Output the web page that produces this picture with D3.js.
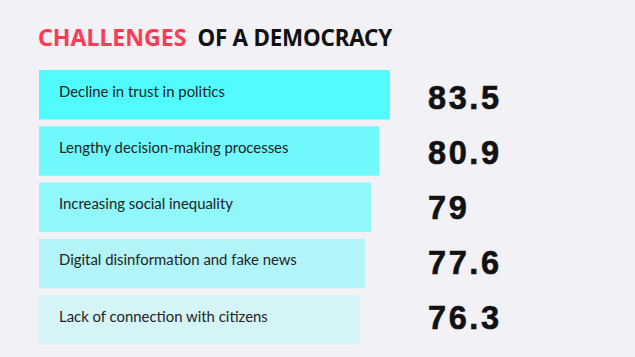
<!DOCTYPE html>
<html><head><meta charset="utf-8">
<script src="https://cdn.jsdelivr.net/npm/d3@7"></script>
<style>
html,body{margin:0;padding:0;background:#f2f1f6;}
svg{display:block;}
</style></head>
<body>
<script>
const categories = ["Decline in trust in politics","Lengthy decision-making processes","Increasing social inequality","Digital disinformation and fake news","Lack of connection with citizens"];
const values = [83.5, 80.9, 79, 77.6, 76.3];
const valueLabels = ["83.5","80.9","79","77.6","76.3"];
const barColors = ["#50fcfe","#70f9fc","#90f7fa","#b2f4f7","#d5f4f7"];
const titleRed = "CHALLENGES";
const titleBlack = "OF A DEMOCRACY";

const W = 635, H = 357;
const svg = d3.select("body").append("svg").attr("width", W).attr("height", H);
svg.append("rect").attr("width", W).attr("height", H).attr("fill", "#f2f1f6");

const title = svg.append("text").attr("x", 38).attr("y", 46)
  .attr("font-family", "'Noto Sans', sans-serif").attr("font-weight", 700).attr("font-size", 22.4);
title.append("tspan").attr("fill", "#fd3b55").attr("font-size", 23.1).text(titleRed);
title.append("tspan").attr("fill", "#111").attr("dx", 11).attr("letter-spacing", -0.2).text(titleBlack);

const x = d3.scaleLinear().domain([0, 83.5]).range([0, 351]);
const y = d3.scaleBand().domain(categories).range([70, 344.5]).paddingInner(0.12).paddingOuter(0);
const yNum = d3.scalePoint().domain(categories).range([108.5, 328.5]);
const x0 = 39;

const rows = categories.map((c, i) => ({c, v: values[i], lab: valueLabels[i], col: barColors[i]}));

svg.selectAll("rect.bar").data(rows).enter().append("rect")
  .attr("class", "bar")
  .attr("x", x0).attr("y", d => y(d.c))
  .attr("width", d => x(d.v)).attr("height", y.bandwidth())
  .attr("fill", d => d.col);

svg.selectAll("text.cat").data(rows).enter().append("text")
  .attr("class", "cat")
  .attr("x", 59).attr("y", d => y(d.c) + 26.7)
  .attr("font-family", "Lato, 'Noto Sans', sans-serif").attr("font-size", 14.9)
  .attr("fill", "#1f2326").text(d => d.c);

svg.selectAll("text.val").data(rows).enter().append("text")
  .attr("class", "val")
  .attr("x", 428).attr("y", d => yNum(d.c))
  .attr("font-family", "'Liberation Sans', Arial, sans-serif").attr("font-weight", 700)
  .attr("font-size", 32.5).attr("letter-spacing", 2.6)
  .attr("stroke", "#111").attr("stroke-width", 0.6)
  .attr("fill", "#111").text(d => d.lab);
</script>
</body></html>
